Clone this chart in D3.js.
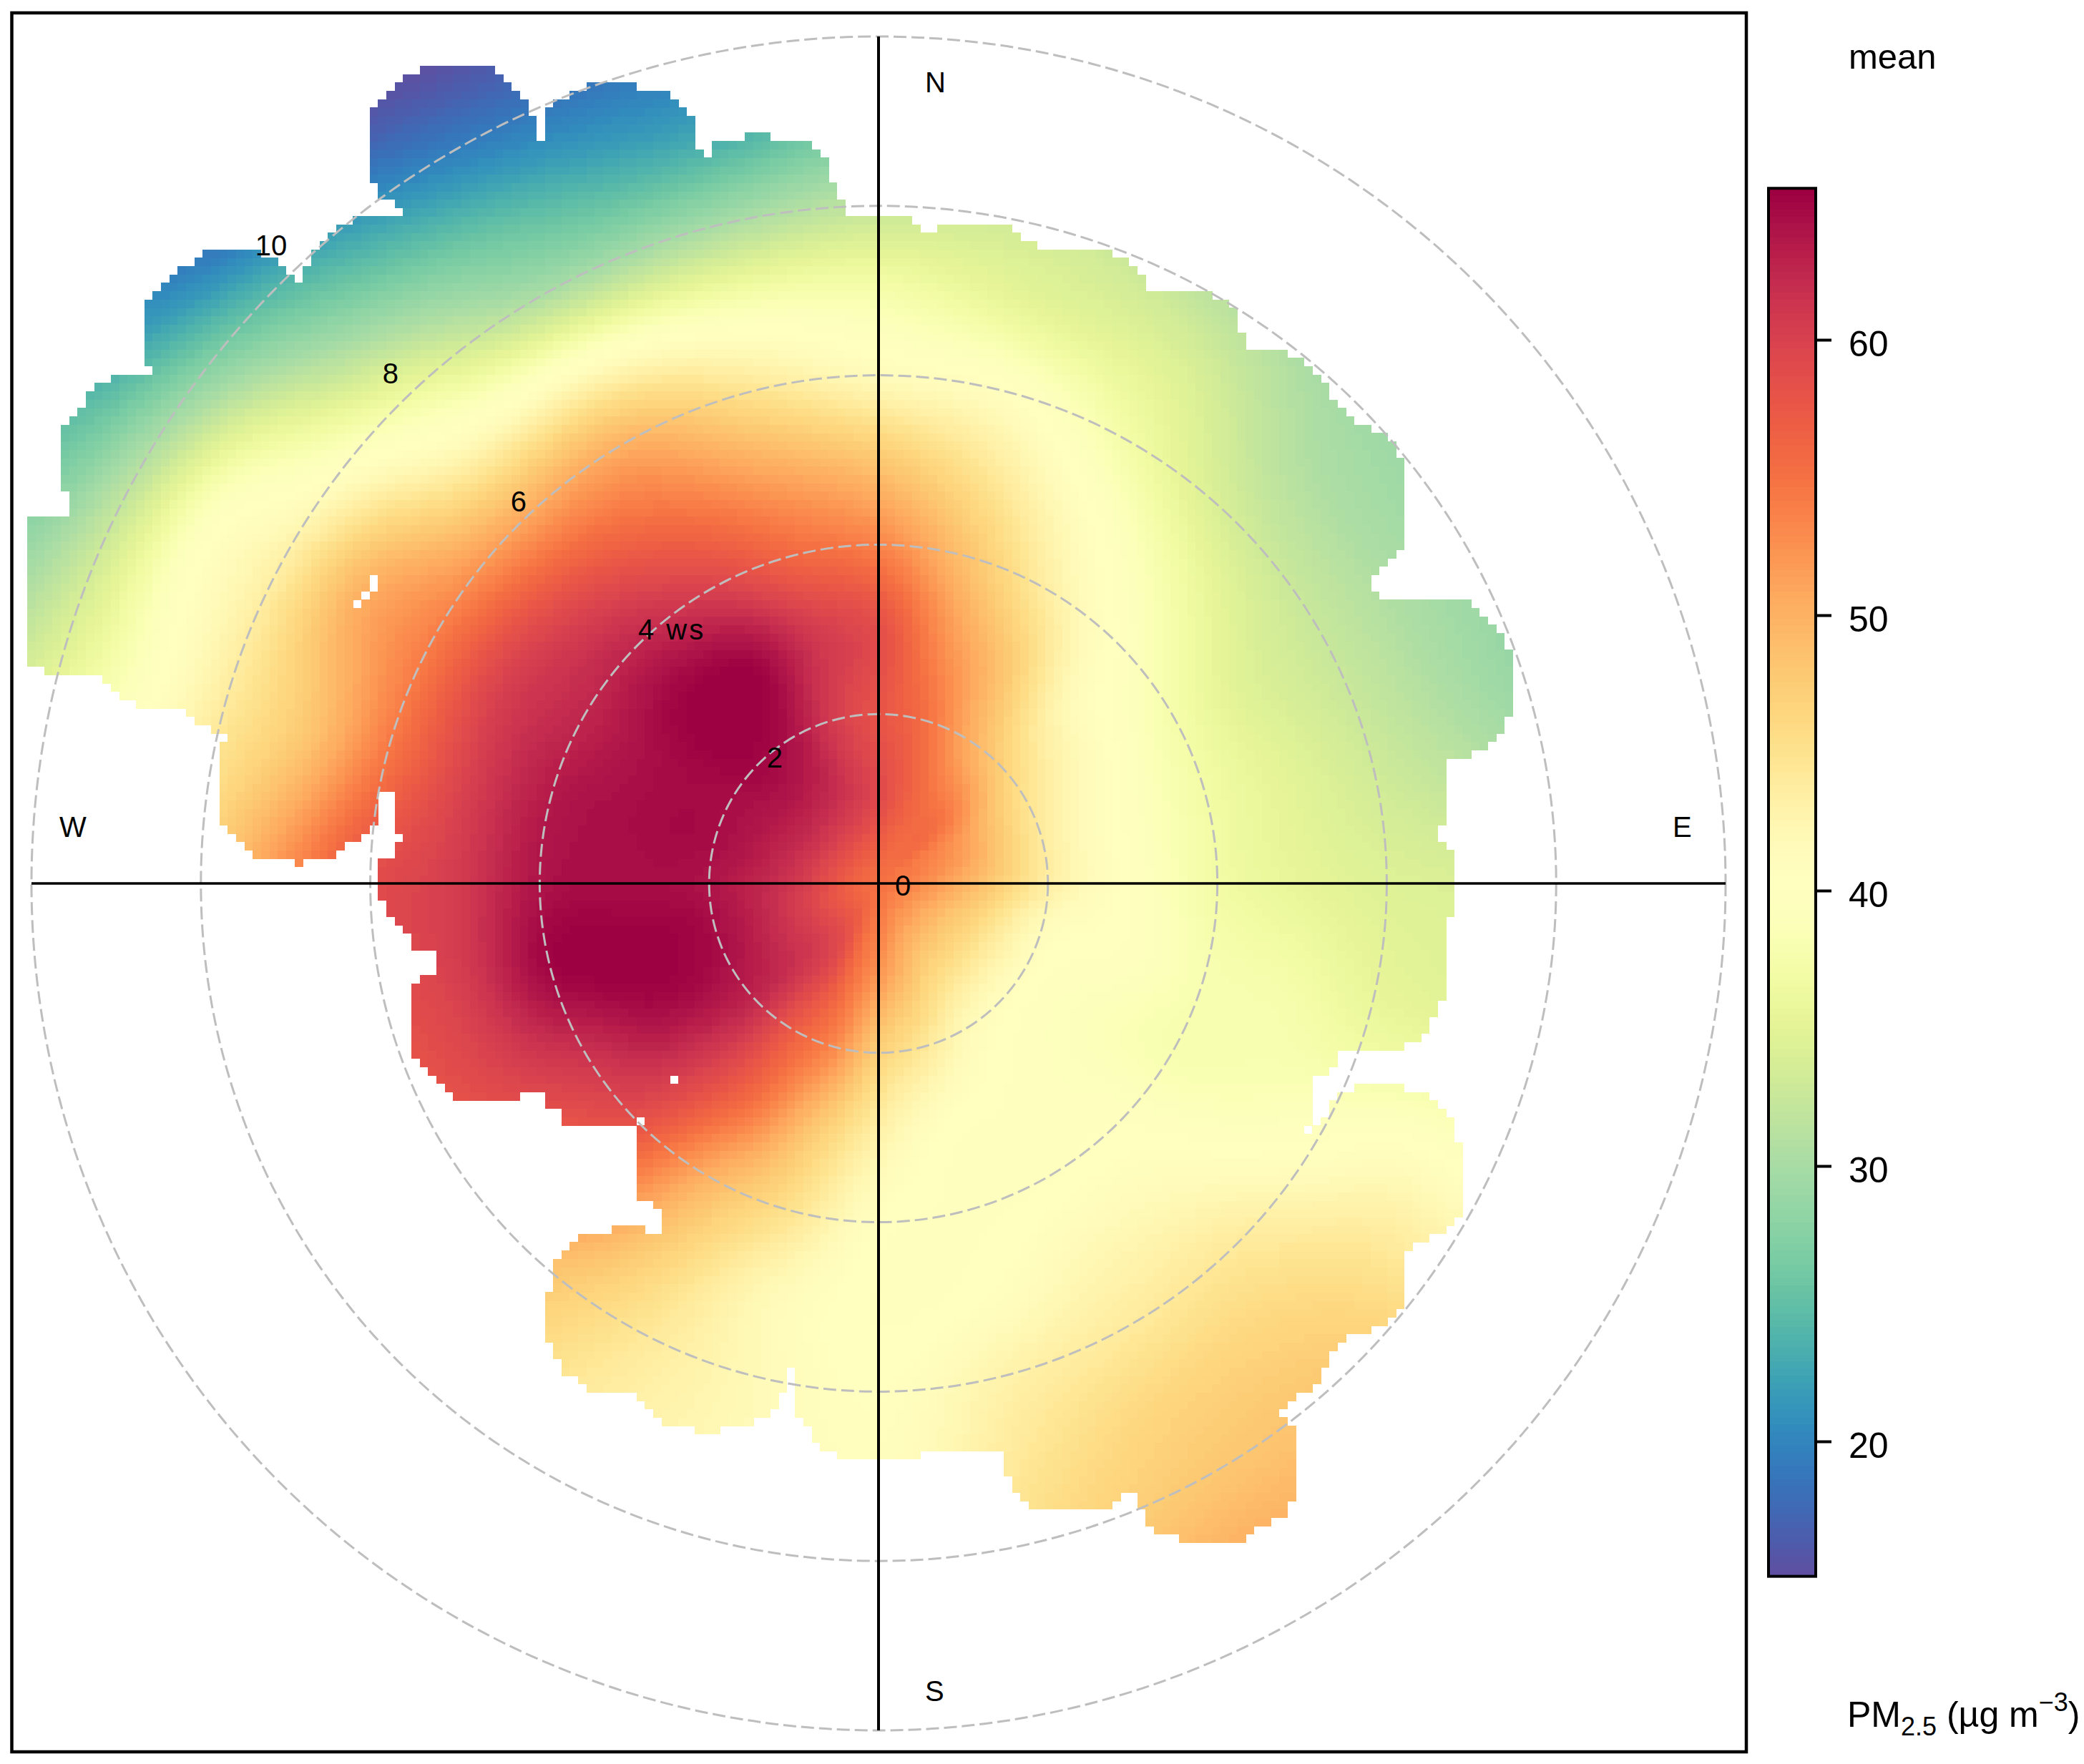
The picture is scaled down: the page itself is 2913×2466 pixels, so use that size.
<!DOCTYPE html>
<html><head><meta charset="utf-8">
<script src="https://cdn.jsdelivr.net/npm/d3@7"></script>
<style>html,body{margin:0;padding:0;background:#fff}svg{display:block}text{font-family:"Liberation Sans",Arial,sans-serif;fill:#000}</style>
</head><body><div id="chart"></div>
<script>
// wind direction columns (degrees clockwise from north)
const bearings = [0,15,30,45,60,75,90,105,120,135,150,165,180,195,210,225,240,255,270,285,300,315,330,345];
// wind speed rows (ws)
const speeds = [0,1,2,3,4,5,6,7,8,9,10,11];
// mean PM2.5: one row per wind speed, one value per direction
const pmWs0  = [55,55,55,55,55,55,55,55,55,55,55,55,55,55,55,55,55,55,55,55,55,55,55,55];
const pmWs1  = [59,57,55.5,55,52.5,51.5,50,48.5,47.5,47.5,48,50,52.5,55,59,60.5,60.5,60.5,61,61.5,62,62,61.5,60.5];
const pmWs2  = [58,55.5,51,47.5,45,44,43.5,41.5,41,41,42,44.5,47,53,57,62,64,64.5,64,64.5,64.5,65,64,60.5];
const pmWs3  = [58.5,52.5,48,42.5,41,40,40,40,39,39.5,40,40.5,43,48,55,60.5,64.5,65.5,64.5,64.5,64.5,65.5,65,61];
const pmWs4  = [53.5,48.5,43.5,40,37.5,37,37,38,38,40,40,40,40.5,45,50,58,61.5,65,64,63.5,62.5,62.5,60,56];
const pmWs5  = [48,44.5,40.5,37,34.5,35,35.5,37.5,38.5,41.5,42,40.5,40,42,47,54,59,60.5,60.5,60,60,58,55,51];
const pmWs6  = [41.5,40.5,37,33.5,32.5,33,34.5,36,40,44,44,43,40.5,42,45,50,56.5,58,58.5,54.5,54,51,50,45];
const pmWs7  = [37.5,35.5,34.5,31,30.5,31,34,35.5,42,46,46.5,44.5,41,42,44,48,53,54,53,48,50,43,41,38.5];
const pmWs8  = [32,33,31.5,29.5,29,29,33,35,42,47.5,48,46,42,42,44,47,51,50,47,44,43,37,30.5,30];
const pmWs9  = [26,28,28,27,27,27,30,33,42,48,50,48,43,42,44,46,48,46,43,39.5,39,30,25,23];
const pmWs10 = [20,22,24,25,25,25,28,31,41,48,50,48,43,42,44,45,46,43,40,35,31,24,19.5,19];
const pmWs11 = [15,18,20,22,22,22,26,29,40,48,50,48,43,42,44,44,44,40,37,31,25,18,15.5,16];
const pmRows = [pmWs0,pmWs1,pmWs2,pmWs3,pmWs4,pmWs5,pmWs6,pmWs7,pmWs8,pmWs9,pmWs10,pmWs11];

// edge of the surface as wind components, ws east and ws north
const outlineU = [.44,.44,.54,.73,.73,1.62,1.62,1.75,1.95,2.74,2.93,3.13,3.23,3.85,4.05,4.24,4.33,4.82,5.03,5.22,5.32,5.45,5.75,5.95,6.14,6.23,6.23,6.14,5.95,5.84,5.84,6.04,6.14,6.82,7.02,7.21,7.34,7.45,7.45,7.34,7.12,6.92,6.72,6.72,6.63,6.63,6.72,6.82,6.82,6.72,6.72,6.63,6.52,6.24,5.94,5.56,5.46,5.46,5.22,5.11,5.11,5.03,5.03,5.22,5.33,5.46,5.65,6.24,6.52,6.73,6.82,6.92,6.92,6.82,6.63,6.24,6.24,6.14,5.94,5.54,5.32,5.22,5.03,4.73,4.83,4.92,4.92,4.83,4.63,4.34,4.34,3.65,3.42,3.23,3.12,3.03,2.93,2.74,1.95,1.62,1.52,1.43,.63,.55,.55,.35,-.37,-.57,-.76,-.86,-.96,-.96,-1.06,-1.06,-1.17,-1.37,-1.56,-1.85,-1.85,-2.18,-2.18,-2.47,-2.77,-2.86,-3.34,-3.65,-3.74,-3.84,-3.97,-3.97,-3.84,-3.84,-3.65,-3.45,-3.15,-3.15,-2.77,-2.77,-2.58,-2.58,-2.77,-2.86,-2.86,-3.74,-3.74,-3.97,-3.97,-4.27,-4.27,-4.86,-5.05,-5.25,-5.45,-5.55,-5.55,-5.45,-5.25,-5.25,-5.45,-5.55,-5.74,-5.87,-5.87,-5.74,-5.74,-5.64,-5.64,-5.74,-5.74,-5.88,-5.88,-6.07,-6.37,-6.37,-6.76,-6.76,-6.86,-6.86,-7.25,-7.54,-7.67,-7.77,-7.77,-7.67,-7.67,-8.07,-8.17,-8.17,-8.66,-8.95,-9.15,-9.15,-9.77,-9.97,-10.06,-10.06,-9.86,-9.58,-9.57,-9.67,-9.67,-9.57,-9.44,-9.24,-9.05,-8.56,-8.56,-8.66,-8.66,-8.46,-8.26,-7.86,-7.45,-7.15,-6.95,-6.86,-6.76,-6.76,-6.66,-6.36,-6.17,-6.17,-5.64,-5.64,-5.87,-5.87,-5.97,-5.97,-5.87,-5.64,-5.35,-4.66,-4.37,-4.17,-4.17,-4.07,-4.07,-3.97,-3.97,-3.84,-3.55,-3.25,-2.86,-2.86,-2.57,-2.47,-2.27,-2.18,-2.18,-2.04,-2.04,-1.95,-1.95,-1.85,-1.55,-1.55,-1.26,-1.26,-.96,-.77,-.57,-.57,-.47,-.47,-.38,-.38];
const outlineV = [7.88,7.78,7.69,7.69,7.78,7.78,7.69,7.58,7.48,7.48,7.34,7.14,6.99,6.99,6.9,6.69,6.28,6.28,6.17,5.97,5.77,5.58,5.39,5.29,5.09,4.89,4.08,3.89,3.78,3.67,3.49,3.29,3.39,3.39,3.29,3.1,3,2.77,1.98,1.78,1.6,1.49,1.49,.68,.63,.57,.38,.36,-.3,-.48,-1.27,-1.39,-1.71,-1.91,-2.01,-2.01,-1.92,-2.12,-2.31,-2.31,-2.82,-2.85,-2.93,-2.84,-2.62,-2.51,-2.41,-2.41,-2.51,-2.71,-3.02,-3.02,-3.82,-4.02,-4.11,-4.32,-4.83,-5.03,-5.23,-5.34,-5.53,-5.9,-6.01,-6.22,-6.31,-6.54,-7.22,-7.42,-7.52,-7.71,-7.81,-7.81,-7.67,-7.62,-7.45,-7.22,-7.22,-7.37,-7.42,-7.22,-6.99,-6.74,-6.74,-6.64,-6.72,-6.78,-6.82,-6.73,-6.54,-6.41,-6.21,-5.72,-5.72,-5.91,-6.11,-6.3,-6.4,-6.41,-6.54,-6.54,-6.41,-6.4,-6.21,-6.01,-6.01,-5.81,-5.72,-5.52,-5.32,-4.84,-4.84,-4.51,-4.31,-4.11,-4.11,-4.02,-4.02,-4.11,-4.11,-3.92,-3.72,-3.72,-2.83,-2.83,-2.7,-2.61,-2.51,-2.51,-2.6,-2.6,-2.51,-2.31,-2.12,-1.92,-1.33,-1.13,-1.04,-.81,-.81,-.61,-.41,-.22,.27,.27,.46,.47,.57,.57,1.09,1.09,.77,.57,.37,.27,.27,.18,.18,.27,.27,.47,.67,.77,1.68,1.68,1.78,1.88,1.98,2.09,2.09,2.18,2.37,2.47,2.47,2.57,2.67,4.27,4.37,4.37,4.66,4.66,5.39,5.39,5.58,5.88,5.98,5.98,6.07,6.07,6.8,7.09,7.24,7.48,7.48,7.39,7.2,7.09,6.99,7.29,7.48,7.78,7.78,7.88,7.88,7.98,8.07,8.27,8.27,9.1,9.29,9.48,9.68,9.68,9.48,9.29,9.1,9.1,8.8,8.8,8.99,9.2,9.38,9.48,9.48,9.39,9.39,9.29,9.1,8.99,8.7,8.7,8.6,8.6,8.7,8.8,8.8,8.89,8.89,8.8,8.8,8.7,8.51,8.28,8.28,8.07,8.07,7.88];
// single empty cells inside the surface
const holeU = [-5.93,-5.93,-6.02,-6.12,-2.42,-2.82];
const holeV = [3.63,3.53,3.44,3.34,-2.36,-2.76];

const ringSpeeds = [2,4,6,8,10];
const speedLabels = [0,2,4,6,8,10];
const compass = ["N","E","S","W"];
const legendTicks = [20,30,40,50,60];
const legendRange = [15.1,65.5];
const spectralStops = ["#5E4FA2","#3288BD","#66C2A5","#ABDDA4","#E6F598","#FFFFBF","#FEE08B","#FDAE61","#F46D43","#D53E4F","#9E0142"];

const W=2913,H=2466,cx=1228,cy=1235,wsPx=118.4,cell=0.0985;
const x=d3.scaleLinear().domain([0,1]).range([cx,cx+wsPx]);
const y=d3.scaleLinear().domain([0,1]).range([cy,cy-wsPx]);
const legendY=d3.scaleLinear().domain([20,60]).range([2015,475]);

// natural cubic spline through the colour stops (the reference ramp overshoots plain RGB blending)
function spline(vals){
  const n=vals.length,a=new Array(n).fill(0),c=new Array(n).fill(0),m=new Array(n).fill(0);
  for(let i=1;i<n-1;i++){const d=4-(i>1?c[i-1]:0),r=6*(vals[i+1]-2*vals[i]+vals[i-1]);
    c[i]=1/d;a[i]=(r-(i>1?a[i-1]:0))/d;}
  for(let i=n-2;i>0;i--)m[i]=a[i]-c[i]*m[i+1];
  return t=>{const s=Math.min(n-1.000001,Math.max(0,t*(n-1))),k=Math.floor(s),f=s-k,g=1-f;
    return g*vals[k]+f*vals[k+1]+((g*g*g-g)*m[k]+(f*f*f-f)*m[k+1])/6;};
}
const rgbStops=spectralStops.map(s=>d3.rgb(s));
const sr=spline(rgbStops.map(c=>c.r)),sg=spline(rgbStops.map(c=>c.g)),sb=spline(rgbStops.map(c=>c.b));
const clamp255=v=>Math.max(0,Math.min(255,Math.round(v)));
const palette=d3.range(200).map(i=>{const t=i/199;return d3.rgb(clamp255(sr(t)),clamp255(sg(t)),clamp255(sb(t))).formatHex();});
const colour=d3.scaleQuantize().domain(legendRange).range(palette);

// reading the table between its rows and columns, to reach the reference's raster cell size
const cr=(p0,p1,p2,p3,t)=>0.5*((2*p1)+(-p0+p2)*t+(2*p0-5*p1+4*p2-p3)*t*t+(-p0+3*p1-3*p2+p3)*t*t*t);
function surface(u,v){
  const r=Math.min(10.999,Math.hypot(u,v)),deg=(Math.atan2(u,v)*180/Math.PI+360)%360;
  const step=bearings[1]-bearings[0],nb=bearings.length;
  const bi=Math.floor(deg/step),bt=deg/step-bi,ri=Math.floor(r),rt=r-ri;
  const rowAt=k=>{const row=pmRows[Math.max(0,Math.min(pmRows.length-1,k))];
    return cr(row[(bi-1+nb)%nb],row[bi%nb],row[(bi+1)%nb],row[(bi+2)%nb],bt);};
  return Math.max(legendRange[0],Math.min(legendRange[1],cr(rowAt(ri-1),rowAt(ri),rowAt(ri+1),rowAt(ri+2),rt)));
}
const outline=outlineU.map((u,i)=>[u,outlineV[i]]);
const holes=holeU.map((u,i)=>[u,holeV[i]]);
const cells=[];
for(let i=-112;i<112;i++)for(let j=-112;j<112;j++){
  const u=(i+.5)*cell,v=(j+.5)*cell;
  if(!d3.polygonContains(outline,[u,v]))continue;
  if(holes.some(h=>Math.abs(h[0]-u)<=cell*.5&&Math.abs(h[1]-v)<=cell*.5))continue;
  cells.push({u,v,value:surface(u,v)});
}

const svg=d3.select("#chart").append("svg").attr("width",W).attr("height",H).attr("viewBox",[0,0,W,H]);
svg.append("rect").attr("width",W).attr("height",H).attr("fill","#fff");

const cellPx=x(cell)-x(0);
svg.append("g").attr("shape-rendering","crispEdges").selectAll("rect").data(cells).join("rect")
  .attr("x",d=>x(d.u)-cellPx/2).attr("y",d=>y(d.v)-cellPx/2)
  .attr("width",cellPx+.5).attr("height",cellPx+.5).attr("fill",d=>colour(d.value));

svg.append("g").selectAll("circle").data(ringSpeeds).join("circle")
  .attr("cx",x(0)).attr("cy",y(0)).attr("r",d=>x(d)-x(0))
  .attr("fill","none").attr("stroke","#bebebe").attr("stroke-width",3).attr("stroke-dasharray","18 7");

const reach=10;
svg.append("line").attr("x1",x(-reach)).attr("x2",x(reach)).attr("y1",y(0)).attr("y2",y(0)).attr("stroke","#000").attr("stroke-width",3.5);
svg.append("line").attr("x1",x(0)).attr("x2",x(0)).attr("y1",y(reach)).attr("y2",y(-reach)).attr("stroke","#000").attr("stroke-width",4);

// wind speed labels along the north-west diagonal
svg.append("g").selectAll("text").data(speedLabels).join("text")
  .attr("x",d=>x(-.756*d)+34+(d===10?12:0)-(d===4?12:0)).attr("y",d=>y(.756*d)+17)
  .attr("text-anchor",d=>d===4?"start":"middle").attr("font-size",40)
  .attr("letter-spacing",d=>d===4?"3px":null)
  .text(d=>d===4?"4 ws":d);

const compassPos={N:[1293,129],E:[2338,1170],S:[1293,2378],W:[83,1170]};
svg.append("g").selectAll("text").data(compass).join("text")
  .attr("x",d=>compassPos[d][0]).attr("y",d=>compassPos[d][1]).attr("font-size",40).text(d=>d);

svg.append("rect").attr("x",16.5).attr("y",18).attr("width",2424.5).attr("height",2431)
  .attr("fill","none").attr("stroke","#000").attr("stroke-width",4.5);

// colour key
const levels=d3.range(200).map(i=>legendRange[0]+(i+.5)*(legendRange[1]-legendRange[0])/200);
const levelH=Math.abs(legendY(legendRange[1])-legendY(legendRange[0]))/200;
svg.append("g").attr("shape-rendering","crispEdges").selectAll("rect").data(levels).join("rect")
  .attr("x",2472).attr("width",66).attr("y",d=>legendY(d)-levelH/2).attr("height",levelH+.6).attr("fill",d=>colour(d));
svg.append("rect").attr("x",2472).attr("width",66).attr("y",legendY(legendRange[1])).attr("height",legendY(legendRange[0])-legendY(legendRange[1]))
  .attr("fill","none").attr("stroke","#000").attr("stroke-width",4);
const axis=d3.axisRight(legendY).tickValues(legendTicks).tickSize(20).tickPadding(24).tickFormat(d3.format("d"));
const ag=svg.append("g").attr("transform","translate(2540,0)").call(axis);
ag.select(".domain").remove();
ag.selectAll("line").attr("stroke","#000").attr("stroke-width",4);
ag.selectAll("text").attr("font-size",50).attr("font-family",'"Liberation Sans",Arial,sans-serif').attr("fill","#000").attr("dy","0.44em");

svg.append("text").attr("x",2584).attr("y",96).attr("font-size",49).text("mean");
const unit=svg.append("text").attr("x",2582).attr("y",2414).attr("font-size",50);
unit.append("tspan").text("PM");
unit.append("tspan").attr("font-size",36).attr("dy",12).text("2.5");
unit.append("tspan").attr("dy",-12).text(" (µg m");
unit.append("tspan").attr("font-size",36).attr("dy",-22).text("−3");
unit.append("tspan").attr("dy",22).text(")");
</script></body></html>
